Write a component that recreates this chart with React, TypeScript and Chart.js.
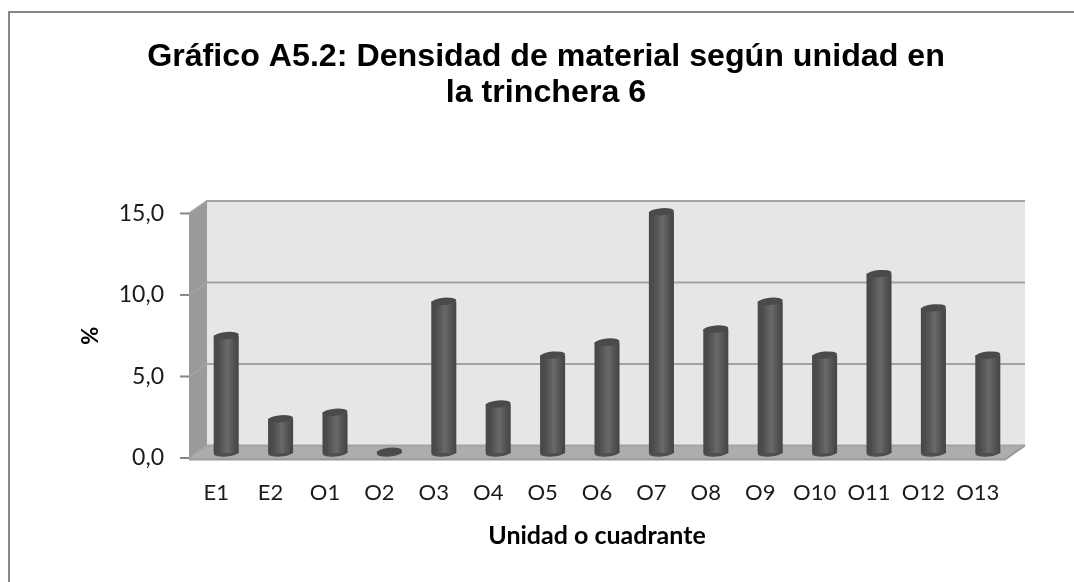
import React, { useEffect, useRef } from "react";
import { Chart, registerables } from "chart.js";

Chart.register(...registerables);

const categories = ["E1","E2","O1","O2","O3","O4","O5","O6","O7","O8","O9","O10","O11","O12","O13"];
const densityValues = [7.2,2.1,2.5,0.1,9.3,3.0,6.0,6.8,14.8,7.6,9.3,6.0,11.0,8.9,6.0];
const yTickValues = [0,5,10,15];
const titleLines = ["Gráfico A5.2: Densidad de material según unidad en","la trinchera 6"];
const xAxisTitle = "Unidad o cuadrante";
const yAxisTitle = "%";

const depth = { dx: 18, dy: -12.5 };
const barShift = { dx: 10, dy: -5 };

const scene = {
  id: "scene",
  beforeDraw(chart: any) {
    const { ctx, chartArea: a, scales } = chart;
    const y = scales.y;
    ctx.save();
    // frame
    ctx.strokeStyle = "#868686";
    ctx.lineWidth = 2;
    ctx.beginPath();
    ctx.moveTo(9, 582);
    ctx.lineTo(9, 12);
    ctx.lineTo(1074, 12);
    ctx.stroke();
    const l = a.left, r = a.right, t = y.getPixelForValue(15), b = y.getPixelForValue(0);
    // back wall
    ctx.fillStyle = "#e6e6e6";
    ctx.fillRect(l + depth.dx, t + depth.dy, r - l + 2, b - t);
    // floor
    ctx.fillStyle = "#adadad";
    ctx.beginPath();
    ctx.moveTo(l, b + 2);
    ctx.lineTo(r, b + 2);
    ctx.lineTo(r + depth.dx + 2, b + depth.dy);
    ctx.lineTo(l + depth.dx, b + depth.dy);
    ctx.closePath();
    ctx.fill();
    // side wall
    ctx.fillStyle = "#9a9a9a";
    ctx.beginPath();
    ctx.moveTo(l, t);
    ctx.lineTo(l + depth.dx, t + depth.dy);
    ctx.lineTo(l + depth.dx, b + depth.dy);
    ctx.lineTo(l, b + 2);
    ctx.closePath();
    ctx.fill();
    // gridlines
    ctx.strokeStyle = "#a3a3a3";
    ctx.lineWidth = 2;
    for (const v of yTickValues) {
      const p = y.getPixelForValue(v);
      ctx.beginPath();
      ctx.moveTo(l, p);
      ctx.lineTo(l + depth.dx, p + depth.dy);
      ctx.lineTo(r + depth.dx + 2, p + depth.dy);
      ctx.stroke();
      ctx.beginPath();
      ctx.moveTo(l - 9, p);
      ctx.lineTo(l, p);
      ctx.strokeStyle = "#868686";
      ctx.stroke();
      ctx.strokeStyle = "#a3a3a3";
    }
    ctx.strokeStyle = "#9a9a9a";
    ctx.beginPath();
    ctx.moveTo(l, b + 1.5);
    ctx.lineTo(r, b + 1.5);
    ctx.lineTo(r + depth.dx + 2, b + depth.dy);
    ctx.stroke();
    ctx.restore();
  },
  beforeDatasetsDraw(chart: any) {
    const { ctx } = chart;
    ctx.save();
    ctx.translate(barShift.dx, barShift.dy);
    // bottom caps of the cylinders
    chart.getDatasetMeta(0).data.forEach((el: any) => {
      const w = el.width / 2;
      ctx.fillStyle = "#4f4f4f";
      ctx.beginPath();
      ctx.ellipse(el.x, el.base, w, 3.6, -0.09, 0, Math.PI * 2);
      ctx.fill();
    });
  },
  afterDatasetsDraw(chart: any) {
    const { ctx } = chart;
    // top caps of the cylinders
    chart.getDatasetMeta(0).data.forEach((el: any) => {
      const w = el.width / 2;
      ctx.fillStyle = "#4a4a4a";
      ctx.beginPath();
      ctx.ellipse(el.x, el.y, w, 3.6, -0.09, 0, Math.PI * 2);
      ctx.fill();
    });
    ctx.restore();
  },
};

export default function App() {
  const ref = useRef<HTMLCanvasElement>(null);
  useEffect(() => {
    if (!ref.current) return;
    const chart = new Chart(ref.current, {
      type: "bar",
      plugins: [scene],
      data: {
        labels: categories,
        datasets: [{
          data: densityValues,
          barPercentage: 0.46,
          categoryPercentage: 1,
          borderWidth: 0,
          backgroundColor: (c: any) => {
            const x = c.chart.scales.x.getPixelForValue(c.dataIndex);
            if (!Number.isFinite(x)) return "#555555";
            const g = c.chart.ctx.createLinearGradient(x - 12.5, 0, x + 12.5, 0);
            g.addColorStop(0, "#474747");
            g.addColorStop(0.2, "#4d4d4d");
            g.addColorStop(0.55, "#696969");
            g.addColorStop(0.8, "#525252");
            g.addColorStop(1, "#444444");
            return g;
          },
        }],
      },
      options: {
        responsive: false,
        animation: false,
        layout: { padding: { left: 18, right: 0, top: 0, bottom: 0 } },
        plugins: {
          legend: { display: false },
          tooltip: { enabled: false },
          title: {
            display: true,
            text: titleLines,
            color: "#000000",
            font: { family: "'Liberation Sans', Arial, sans-serif", size: 32.2, weight: "bold", lineHeight: 1.125 },
            padding: { top: 39, bottom: 102 },
          },
        },
        scales: {
          x: {
            grid: { display: false },
            border: { display: false },
            ticks: { color: "#1a1a1a", font: { family: "Lato, sans-serif", size: 22 }, padding: 14, maxRotation: 0, autoSkip: false },
            title: { display: true, text: xAxisTitle, color: "#000000", font: { family: "Lato, sans-serif", size: 25, weight: "bold" }, padding: { top: 18, bottom: 31 } },
            afterFit: (s: any) => { s.height = 124; },
          },
          y: {
            min: 0,
            max: 15,
            grid: { display: false },
            border: { display: false },
            afterBuildTicks: (s: any) => { s.ticks = yTickValues.map((value) => ({ value })); },
            ticks: {
              color: "#1a1a1a",
              font: { family: "Lato, sans-serif", size: 23 },
              padding: 17,
              callback: (v: any) => Number(v).toFixed(1).replace(".", ","),
            },
            title: { display: true, text: yAxisTitle, color: "#000000", font: { family: "Lato, sans-serif", size: 22, weight: "bold" }, padding: { top: 60, bottom: 0 } },
            afterFit: (s: any) => { s.width = 171; },
          },
          yRight: {
            axis: "y",
            position: "right",
            display: true,
            grid: { display: false },
            border: { display: false },
            ticks: { display: false },
            afterFit: (s: any) => { s.width = 69; },
          },
        },
      },
    } as any);
    chart.update();
    return () => chart.destroy();
  }, []);
  return <canvas ref={ref} width={1074} height={582} style={{ position: "fixed", left: 0, top: 0, width: 1074, height: 582 }} />;
}
